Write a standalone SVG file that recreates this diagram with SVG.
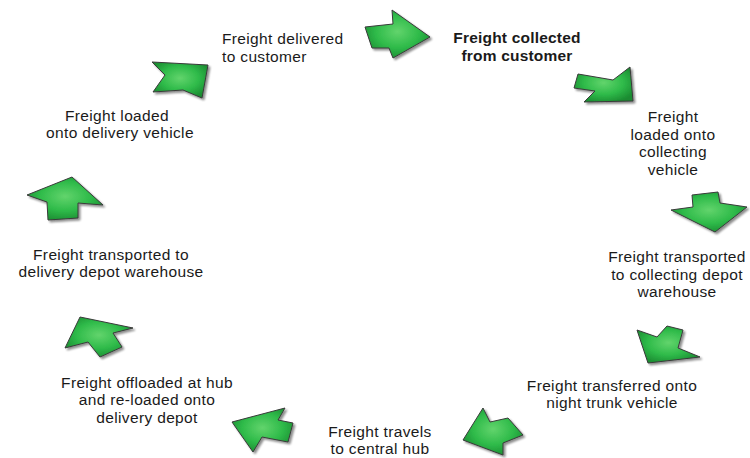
<svg xmlns="http://www.w3.org/2000/svg" width="750" height="458" viewBox="0 0 750 458">
<defs>
<radialGradient id="g" cx="50%" cy="45%" r="60%">
<stop offset="0" stop-color="#62d46c"/>
<stop offset="0.55" stop-color="#2fbb4a"/>
<stop offset="1" stop-color="#1a8a30"/>
</radialGradient>
<filter id="sh" x="-20%" y="-20%" width="150%" height="150%">
<feGaussianBlur in="SourceAlpha" stdDeviation="1.2"/>
<feOffset dx="1.5" dy="1.5" result="b"/>
<feComponentTransfer><feFuncA type="linear" slope="0.45"/></feComponentTransfer>
<feMerge><feMergeNode/><feMergeNode in="SourceGraphic"/></feMerge>
</filter>
<style>
.a{fill:url(#g);stroke:#3a3a3a;stroke-width:1;stroke-linejoin:round;filter:url(#sh)}
.t{font-family:"Liberation Sans",Arial,sans-serif;font-size:15.5px;letter-spacing:0.35px;fill:#1a1a1a;text-anchor:middle}
.b{font-weight:bold;letter-spacing:0.2px}
.l{text-anchor:start}
</style>
</defs>
<rect width="750" height="458" fill="#ffffff"/>
<g id="connectors">
<polygon class="a" points="365,27 393,24 392,10 430,37 393,58 389,48 372,48"/>
<polygon class="a" points="578,74 613,80 630,67 633,101 584,102 595,91 574,88"/>
<polygon class="a" points="692,195 718,192 720,203 747,207 715,232 671,210 693,207"/>
<polygon class="a" points="637,330 657,337 667,326 683,330 678,348 700,357 648,363"/>
<polygon class="a" points="483,408 490,422 508,418 523,435 503,443 503,455 463,440"/>
<polygon class="a" points="232,422 285,408 278,420 293,423 288,442 262,437 253,452"/>
<polygon class="a" points="80,317 133,328 113,333 122,347 100,357 88,342 65,348"/>
<polygon class="a" points="72,177 103,205 78,203 78,218 48,220 47,202 27,195"/>
<polygon class="a" points="152,62 208,65 202,98 183,90 153,92 165,75"/>
</g>
<g id="n1"><text class="t b"><tspan x="517" y="43">Freight collected</tspan><tspan x="517" y="60.5">from customer</tspan></text></g>
<g id="n2"><text class="t"><tspan x="673" y="122">Freight</tspan><tspan x="673" y="139.5">loaded onto</tspan><tspan x="673" y="157">collecting</tspan><tspan x="673" y="174.5">vehicle</tspan></text></g>
<g id="n3"><text class="t"><tspan x="677" y="262">Freight transported</tspan><tspan x="677" y="279.5">to collecting depot</tspan><tspan x="677" y="297">warehouse</tspan></text></g>
<g id="n4"><text class="t"><tspan x="612" y="390.75">Freight transferred onto</tspan><tspan x="612" y="408.25">night trunk vehicle</tspan></text></g>
<g id="n5"><text class="t"><tspan x="380" y="436.75">Freight travels</tspan><tspan x="380" y="454.25">to central hub</tspan></text></g>
<g id="n6"><text class="t"><tspan x="147" y="387.5">Freight offloaded at hub</tspan><tspan x="147" y="405">and re-loaded onto</tspan><tspan x="147" y="422.5">delivery depot</tspan></text></g>
<g id="n7"><text class="t"><tspan x="111" y="259.75">Freight transported to</tspan><tspan x="111" y="277.25">delivery depot warehouse</tspan></text></g>
<g id="n8"><text class="t"><tspan x="117" y="120.75">Freight loaded</tspan><tspan x="120" y="138.25">onto delivery vehicle</tspan></text></g>
<g id="n9"><text class="t l"><tspan x="222" y="44.25">Freight delivered</tspan><tspan x="222" y="61.75">to customer</tspan></text></g>
</svg>
